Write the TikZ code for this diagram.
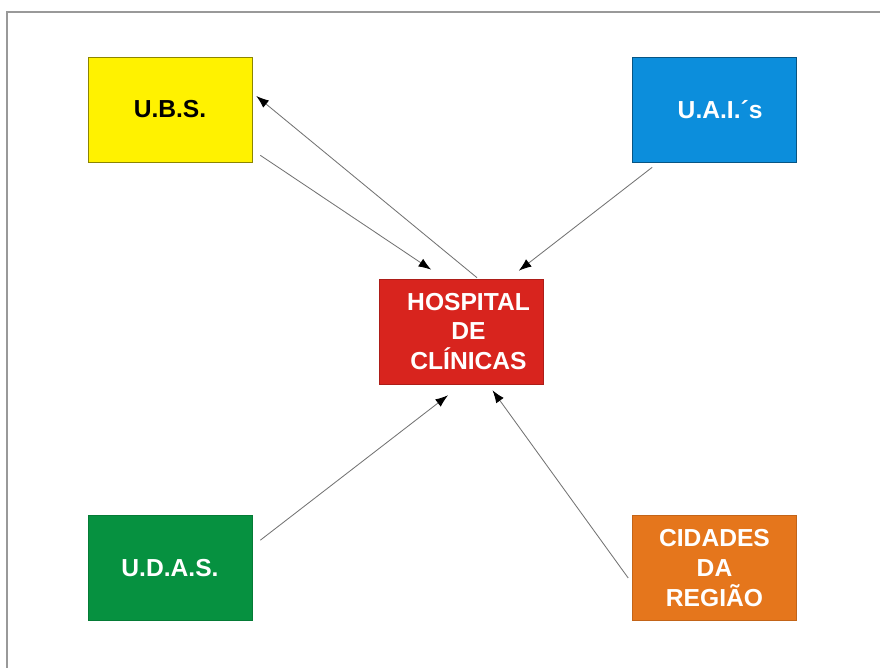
\documentclass[tikz,border=0pt]{standalone}
\usepackage{fontspec}
\setmainfont{Liberation Sans}
\usetikzlibrary{arrows.meta,calc}
\definecolor{ubsyellow}{RGB}{255,242,0}
\definecolor{uaiblue}{RGB}{12,142,220}
\definecolor{hcred}{RGB}{216,36,30}
\definecolor{udasgreen}{RGB}{6,145,64}
\definecolor{cidorange}{RGB}{229,118,28}

\begin{document}
\begin{tikzpicture}[x=0.025cm,y=-0.025cm]
\tikzstyle{every node}=[rectangle,minimum width=4.1cm,minimum height=2.625cm,inner sep=0pt,align=center,text=white,font=\fontsize{17.5}{21}\selectfont\bfseries]
\tikzstyle{seta}=[draw=black!55,line width=0.6pt,-{Latex[length=9pt,width=6.5pt,color=black]}]
\useasboundingbox (0,0) rectangle (880,668);
\draw[black!40,line width=1.4pt] (880,12) -- (7,12) -- (7,668);
% caixas
\node[fill=ubsyellow,draw=ubsyellow!55!black,text=black] (ubs) at (170,109.5) {U.B.S.};
\node[fill=uaiblue,draw=uaiblue!60!black] (uai) at (714.5,109.5) {\hspace*{8pt}U.A.I.´s};
\node[fill=hcred,draw=hcred!80!black] (hc) at (461.5,331.5) {\hspace*{10pt}HOSPITAL\\\hspace*{10pt}DE\\\hspace*{10pt}CLÍNICAS};
\node[fill=udasgreen,draw=udasgreen!85!black] (udas) at (170,568) {U.D.A.S.};
\node[fill=cidorange,draw=cidorange!85!black] (cid) at (714.5,568) {CIDADES\\DA\\REGIÃO};
% setas
\draw[seta] ($(ubs.south east)+(8,-7)$) -- ($(hc.north west)+(52,-9)$);
\draw[seta] ($(hc.north)+(15.5,-1)$) -- ($(ubs.east)+(4,-13.5)$);
\draw[seta] ($(uai.south west)+(20,5)$) -- ($(hc.north east)+(-25,-8)$);
\draw[seta] ($(udas.north east)+(8,25)$) -- ($(hc.south)+(-13.5,11)$);
\draw[seta] ($(cid.west)+(-4,10)$) -- ($(hc.south)+(31,6)$);
\end{tikzpicture}
\end{document}
